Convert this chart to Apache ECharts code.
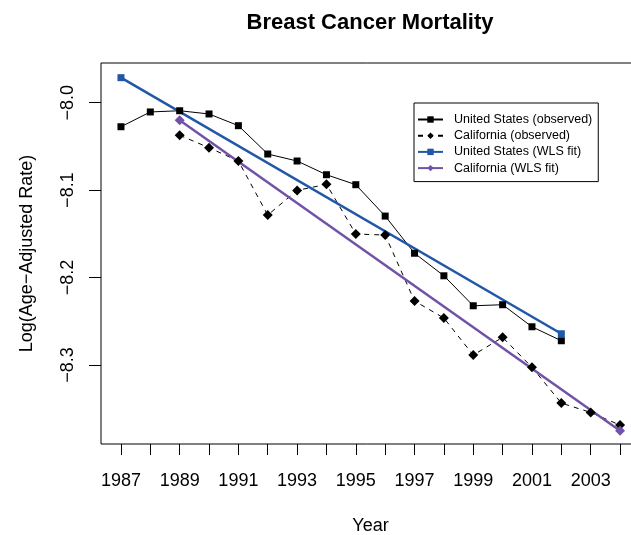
<!DOCTYPE html>
<html>
<head>
<meta charset="utf-8">
<script src="https://cdn.jsdelivr.net/npm/echarts@6/dist/echarts.min.js"></script>
<style>
  html, body { margin: 0; padding: 0; background: #fff; }
  #chart { width: 631px; height: 535px; }
</style>
</head>
<body>
<div id="chart"></div>
<script>
var usYears = [1987, 1988, 1989, 1990, 1991, 1992, 1993, 1994, 1995, 1996, 1997, 1998, 1999, 2000, 2001, 2002];
var usObserved = [-8.0275, -8.0106, -8.0092, -8.0129, -8.0263, -8.0587, -8.0667, -8.0824, -8.0938, -8.1297, -8.1722, -8.198, -8.2323, -8.2311, -8.2563, -8.2723];
var caYears = [1989, 1990, 1991, 1992, 1993, 1994, 1995, 1996, 1997, 1998, 1999, 2000, 2001, 2002, 2003, 2004];
var caObserved = [-8.0373, -8.0515, -8.0667, -8.1285, -8.1003, -8.0934, -8.1502, -8.1514, -8.2269, -8.2463, -8.2887, -8.2684, -8.3027, -8.3436, -8.3543, -8.3688];
var usFitYears = [1987, 2002];
var usFit = [-7.9714, -8.2643];
var caFitYears = [1989, 2004];
var caFit = [-8.0201, -8.3753];
var xTicks = [1987, 1988, 1989, 1990, 1991, 1992, 1993, 1994, 1995, 1996, 1997, 1998, 1999, 2000, 2001, 2002, 2003, 2004];
var xLabels = [1987, 1989, 1991, 1993, 1995, 1997, 1999, 2001, 2003];
var yTicks = [-8.0, -8.1, -8.2, -8.3];

function pairs(xs, ys) {
  var out = [];
  for (var i = 0; i < xs.length; i++) out.push([xs[i], ys[i]]);
  return out;
}

var font = 'Liberation Sans, Arial, Helvetica, sans-serif';
var blue = '#2157a8';
var purple = '#7052a8';

var chart = echarts.init(document.getElementById('chart'));
var option = {
  animation: false,
  title: {
    text: 'Breast Cancer Mortality',
    left: 365,
    top: 7,
    textAlign: 'center',
    textStyle: { fontFamily: font, fontSize: 22, fontWeight: 'bold', color: '#000' }
  },
  legend: {
    orient: 'vertical',
    left: 414,
    top: 103,
    borderColor: '#000',
    borderWidth: 1,
    padding: [10, 6, 7, 3],
    itemWidth: 25,
    itemHeight: 8,
    itemGap: 3.2,
    textStyle: { fontFamily: font, fontSize: 12.5, color: '#000', padding: [0, 0, 0, 6] },
    data: ['United States (observed)', 'California (observed)', 'United States (WLS fit)', 'California (WLS fit)']
  },
  grid: {
    left: 101, top: 63, right: -9, bottom: 91,
    outerBoundsMode: 'none',
    show: true, borderColor: '#000', borderWidth: 1
  },
  xAxis: {
    type: 'value',
    min: 1986.32,
    max: 2004.68,
    name: 'Year',
    nameLocation: 'middle',
    nameGap: 73,
    nameTextStyle: { fontFamily: font, fontSize: 18, color: '#000' },
    splitLine: { show: false },
    axisLine: { show: false },
    axisTick: { show: true, inside: false, length: 11, customValues: xTicks, lineStyle: { color: '#000' } },
    axisLabel: {
      customValues: xLabels,
      margin: 28,
      fontFamily: font, fontSize: 18, color: '#000',
      formatter: function (v) { return String(v); }
    }
  },
  yAxis: {
    type: 'value',
    min: -8.3904,
    max: -7.9546,
    name: 'Log(Age\u2212Adjusted Rate)',
    nameLocation: 'middle',
    nameGap: 65,
    nameTextStyle: { fontFamily: font, fontSize: 18, color: '#000' },
    splitLine: { show: false },
    axisLine: { show: false },
    axisTick: { show: true, inside: false, length: 12, customValues: yTicks, lineStyle: { color: '#000' } },
    axisLabel: {
      customValues: yTicks,
      rotate: 90,
      margin: 24,
      fontFamily: font, fontSize: 18, color: '#000',
      formatter: function (v) { return '\u2212' + Math.abs(v).toFixed(1); }
    }
  },
  series: [
    {
      name: 'United States (observed)',
      type: 'line',
      data: pairs(usYears, usObserved),
      symbol: 'rect',
      symbolSize: 7,
      itemStyle: { color: '#000' },
      lineStyle: { color: '#000', width: 1 }
    },
    {
      name: 'California (observed)',
      type: 'line',
      data: pairs(caYears, caObserved),
      symbol: 'diamond',
      symbolSize: 10,
      itemStyle: { color: '#000' },
      lineStyle: { color: '#000', width: 1, type: [5, 5] }
    },
    {
      name: 'United States (WLS fit)',
      type: 'line',
      data: pairs(usFitYears, usFit),
      symbol: 'rect',
      symbolSize: 7,
      itemStyle: { color: blue },
      lineStyle: { color: blue, width: 2.5 }
    },
    {
      name: 'California (WLS fit)',
      type: 'line',
      data: pairs(caFitYears, caFit),
      symbol: 'diamond',
      symbolSize: 10,
      itemStyle: { color: purple },
      lineStyle: { color: purple, width: 2.5 }
    }
  ]
};
chart.setOption(option);
</script>
</body>
</html>
